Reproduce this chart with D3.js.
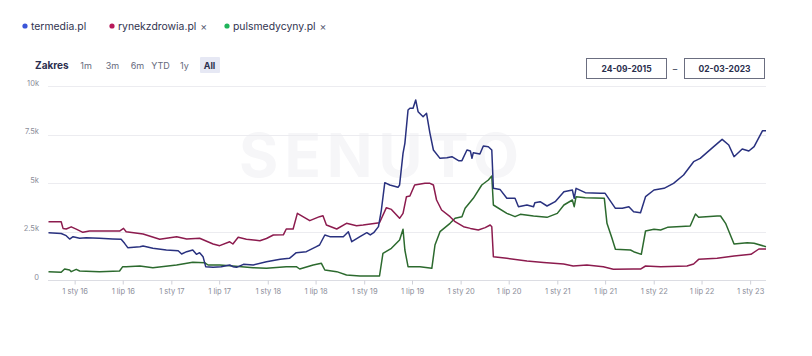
<!DOCTYPE html>
<html><head><meta charset="utf-8">
<script src="https://cdn.jsdelivr.net/npm/d3@7"></script>
<style>
html,body{margin:0;padding:0;background:#fff;}
svg{display:block;font-family:Inter, "Noto Sans", sans-serif;}
</style></head>
<body><svg id="c" width="812" height="356"></svg>
<script>
const seriesNames = ["termedia.pl", "rynekzdrowia.pl", "pulsmedycyny.pl"];
const yTicks = [0, 2500, 5000, 7500, 10000];
const yTickLabels = ["0", "2.5k", "5k", "7.5k", "10k"];
const xTickDates = ["2016-01-01","2016-07-01","2017-01-01","2017-07-01","2018-01-01","2018-07-01","2019-01-01","2019-07-01","2020-01-01","2020-07-01","2021-01-01","2021-07-01","2022-01-01","2022-07-01","2023-01-01"];
const xTickLabels = ["1 sty 16","1 lip 16","1 sty 17","1 lip 17","1 sty 18","1 lip 18","1 sty 19","1 lip 19","1 sty 20","1 lip 20","1 sty 21","1 lip 21","1 sty 22","1 lip 22","1 sty 23"];
const rangeButtons = ["1m","3m","6m","YTD","1y","All"];
const dateFrom = "24-09-2015", dateTo = "02-03-2023";

const termedia = [["2015-09-24",2440],["2015-11-11",2400],["2015-11-30",2285],["2015-12-13",2113],["2015-12-26",2234],["2016-01-20",2150],["2016-02-14",2180],["2016-04-04",2150],["2016-05-24",2113],["2016-06-25",2096],["2016-07-08",1890],["2016-07-20",1667],["2016-09-04",1718],["2016-09-16",1752],["2016-10-23",1632],["2016-12-13",1546],["2017-01-27",1512],["2017-02-09",1340],["2017-02-28",1460],["2017-03-23",1546],["2017-04-06",1323],["2017-04-18",1409],["2017-05-01",1203],["2017-05-11",687],["2017-06-08",653],["2017-07-09",687],["2017-08-10",773],["2017-08-22",687],["2017-09-05",653],["2017-10-01",808],["2017-11-07",773],["2017-12-27",945],["2018-02-17",1065],["2018-03-24",1117],["2018-04-19",1409],["2018-05-27",1460],["2018-07-04",1718],["2018-07-16",1804],["2018-08-05",2320],["2018-08-24",2234],["2018-10-14",2234],["2018-11-02",2490],["2018-11-15",1976],["2018-12-16",2234],["2019-01-11",2440],["2019-01-24",2320],["2019-02-06",2440],["2019-02-24",2750],["2019-03-07",3608],["2019-03-20",5017],["2019-04-08",4897],["2019-05-09",4777],["2019-05-15",4897],["2019-05-28",6529],["2019-06-04",7045],["2019-06-16",8763],["2019-06-23",8850],["2019-07-05",8850],["2019-07-15",9278],["2019-07-24",8677],["2019-08-12",8419],["2019-08-25",8591],["2019-09-07",7560],["2019-09-20",6701],["2019-10-15",6271],["2019-11-10",6300],["2019-11-29",6357],["2019-12-24",6151],["2020-01-06",6151],["2020-01-25",6701],["2020-02-07",6650],["2020-02-13",6271],["2020-02-18",6564],["2020-03-14",6495],["2020-03-27",6907],["2020-04-15",6873],["2020-04-28",6701],["2020-05-04",4725],["2020-05-29",4670],["2020-06-24",4210],["2020-07-25",4210],["2020-08-07",3780],["2020-09-08",3866],["2020-10-03",3780],["2020-10-08",3986],["2020-10-28",4038],["2020-11-23",3814],["2020-12-24",4038],["2021-01-26",4553],["2021-02-27",4639],["2021-03-06",4210],["2021-03-13",4725],["2021-04-17",4502],["2021-06-13",4467],["2021-07-01",4467],["2021-07-14",4210],["2021-08-09",3694],["2021-09-04",3694],["2021-09-29",3780],["2021-10-17",3522],["2021-11-12",3470],["2021-12-01",4296],["2022-01-02",4639],["2022-02-09",4725],["2022-03-17",4983],["2022-04-24",5412],["2022-06-01",6099],["2022-06-26",6271],["2022-08-16",6873],["2022-09-17",7251],["2022-10-12",6959],["2022-11-01",6357],["2022-12-02",6753],["2022-12-27",6650],["2023-01-16",6873],["2023-02-17",7698],["2023-03-02",7698]];

const rynekzdrowia = [["2015-09-24",3000],["2015-11-11",3000],["2015-11-18",2660],["2015-11-30",2630],["2015-12-19",2740],["2016-01-07",2620],["2016-02-01",2457],["2016-02-26",2520],["2016-06-19",2520],["2016-07-04",2660],["2016-07-14",2490],["2016-09-16",2371],["2016-11-18",2096],["2017-01-21",2234],["2017-02-28",2113],["2017-04-18",2150],["2017-06-08",1856],["2017-07-03",1770],["2017-08-10",1970],["2017-08-22",1856],["2017-09-11",2200],["2017-10-12",2096],["2017-12-02",2027],["2017-12-27",2140],["2018-01-22",2320],["2018-03-01",2330],["2018-03-12",2630],["2018-04-07",2630],["2018-04-23",3436],["2018-05-14",3265],["2018-06-09",3058],["2018-07-16",3265],["2018-07-29",3310],["2018-08-11",2835],["2018-09-19",2630],["2018-10-26",2920],["2018-12-03",2800],["2018-12-28",2835],["2019-02-28",2950],["2019-03-26",3728],["2019-04-14",3640],["2019-05-15",3180],["2019-05-28",3436],["2019-06-10",4296],["2019-06-23",4330],["2019-07-11",4897],["2019-08-19",4983],["2019-09-07",4983],["2019-09-20",4897],["2019-10-02",4124],["2019-10-21",3608],["2019-11-22",3265],["2019-12-11",3007],["2020-01-12",2749],["2020-02-07",2660],["2020-03-08",2577],["2020-04-03",2700],["2020-04-22",2835],["2020-04-28",2749],["2020-05-04",1203],["2020-06-24",1117],["2020-09-08",979],["2020-11-10",900],["2021-01-25",825],["2021-03-02",722],["2021-04-23",770],["2021-06-24",687],["2021-08-01",550],["2021-10-16",565],["2021-11-12",565],["2021-12-01",722],["2022-01-27",687],["2022-05-07",722],["2022-06-01",825],["2022-06-20",1065],["2022-08-29",1117],["2022-11-01",1237],["2023-01-04",1323],["2023-02-03",1598],["2023-03-02",1598]];

const pulsmedycyny = [["2015-09-24",430],["2015-11-11",395],["2015-11-24",567],["2015-12-13",515],["2015-12-19",430],["2016-01-07",550],["2016-01-20",464],["2016-04-04",430],["2016-06-19",464],["2016-07-01",687],["2016-07-14",687],["2016-09-04",722],["2016-10-23",636],["2017-01-21",773],["2017-03-23",911],["2017-05-07",894],["2017-05-20",773],["2017-07-03",773],["2017-08-22",722],["2017-11-07",636],["2017-12-27",601],["2018-03-12",687],["2018-04-19",687],["2018-05-02",567],["2018-06-22",773],["2018-07-23",859],["2018-08-05",515],["2018-09-19",430],["2018-10-26",258],["2018-12-16",206],["2019-02-28",206],["2019-03-13",1374],["2019-04-14",1632],["2019-05-15",2062],["2019-05-28",2612],["2019-06-04",1546],["2019-06-16",687],["2019-07-31",687],["2019-09-14",601],["2019-09-26",1804],["2019-10-15",2490],["2019-11-22",2921],["2019-12-11",3179],["2020-01-06",3265],["2020-01-18",3694],["2020-02-18",4210],["2020-03-21",4897],["2020-04-15",5155],["2020-04-28",5361],["2020-05-04",3866],["2020-06-24",3436],["2020-07-25",3265],["2020-08-14",3385],["2020-10-03",3299],["2020-11-23",3230],["2021-01-01",3436],["2021-01-26",3866],["2021-02-27",4124],["2021-03-06",3780],["2021-03-13",4296],["2021-04-17",4245],["2021-06-28",4210],["2021-07-08",2921],["2021-07-27",2148],["2021-08-09",1581],["2021-10-05",1546],["2021-10-17",1460],["2021-11-15",1323],["2021-12-01",2526],["2022-01-02",2612],["2022-01-27",2577],["2022-02-22",2715],["2022-05-19",2784],["2022-06-08",3402],["2022-06-20",3230],["2022-08-29",3299],["2022-09-11",3299],["2022-09-30",2921],["2022-11-01",1856],["2022-12-21",1924],["2023-01-16",1890],["2023-03-02",1718]];

const lineColors = ["#29317f", "#8c1b4e", "#2c6a2e"];
const dotColors = ["#3a55d9", "#b8195a", "#1fb45a"];

const svg = d3.select("#c");
const parse = d3.timeParse("%Y-%m-%d");
const x = d3.scaleTime().domain([parse("2015-09-24"), parse("2023-03-02")]).range([48.5, 766]);
const y = d3.scaleLinear().domain([0, 10000]).range([280, 86]);

// watermark
svg.append("text").attr("x", 382).attr("y", 177).attr("text-anchor", "middle")
  .attr("font-size", 60).attr("font-weight", 700).attr("letter-spacing", 6)
  .attr("fill", "#f6f6f8").text("SENUTO");

// legend
const legX = [25, 112, 227];
seriesNames.forEach((n, i) => {
  const g = svg.append("g").attr("transform", `translate(${legX[i]},26)`);
  g.append("circle").attr("r", 2.6).attr("fill", dotColors[i]);
  const t = g.append("text").attr("x", 6).attr("y", 4).attr("font-size", 10.4).attr("fill", "#30334f").text(n);
  if (i > 0) {
    const w = t.node().getComputedTextLength();
    g.append("text").attr("x", 6 + w + 4).attr("y", 4).attr("font-size", 10.5).attr("fill", "#555a70").text("×");
  }
});

// range selector
svg.append("text").attr("x", 35).attr("y", 69).attr("font-size", 10).attr("font-weight", 700).attr("fill", "#2b2f4e").text("Zakres");
const btnX = [86, 112.5, 137.5, 160.5, 184.5, 209.5];
svg.append("rect").attr("x", 200).attr("y", 57).attr("width", 20).attr("height", 16).attr("rx", 1).attr("fill", "#e6e8f4");
rangeButtons.forEach((b, i) => {
  svg.append("text").attr("x", btnX[i]).attr("y", 69).attr("text-anchor", "middle").attr("font-size", 9)
    .attr("font-weight", i === 5 ? 700 : 400).attr("fill", i === 5 ? "#2b2f4e" : "#666a7c").text(b);
});

// date inputs
[[586, dateFrom], [684, dateTo]].forEach(([bx, txt]) => {
  svg.append("rect").attr("x", bx + 0.5).attr("y", 58.5).attr("width", 80).attr("height", 20).attr("fill", "#fff").attr("stroke", "#6b6e80").attr("stroke-width", 1);
  svg.append("text").attr("x", bx + 40.5).attr("y", 72).attr("text-anchor", "middle").attr("font-size", 8.5).attr("font-weight", 700).attr("fill", "#2b2f4e").text(txt);
});
svg.append("text").attr("x", 675).attr("y", 72).attr("text-anchor", "middle").attr("font-size", 9).attr("fill", "#2b2f4e").text("–");

// grid
yTicks.forEach((v, i) => {
  if (v > 0) svg.append("line").attr("x1", 48).attr("x2", 766).attr("y1", Math.round(y(v)) + 0.5).attr("y2", Math.round(y(v)) + 0.5).attr("stroke", "#ececf0");
  svg.append("text").attr("x", 39).attr("y", y(v) - 0.5).attr("text-anchor", "end").attr("font-size", 7.5).attr("fill", "#8b8d99").text(yTickLabels[i]);
});

// x axis
const xAxis = d3.axisBottom(x).tickValues(xTickDates.map(parse)).tickFormat((d, i) => xTickLabels[i]).tickSize(4).tickPadding(4);
const ax = svg.append("g").attr("transform", "translate(0,280.5)").call(xAxis);
ax.select(".domain").attr("stroke", "#dcdde3").attr("d", "M48,0H766");
ax.selectAll(".tick line").attr("stroke", "#cfd0d8");
ax.selectAll(".tick text").attr("font-size", 7.5).attr("fill", "#8b8d99").attr("font-family", "Inter, sans-serif");

// lines
const line = d3.line().x(d => x(parse(d[0]))).y(d => y(d[1])).curve(d3.curveLinear);
[pulsmedycyny, rynekzdrowia, termedia].forEach((s, k) => {
  const i = 2 - k;
  svg.append("path").datum(s).attr("d", line).attr("fill", "none").attr("stroke", lineColors[i])
    .attr("stroke-width", 1.5).attr("stroke-linejoin", "round");
});
</script></body></html>
